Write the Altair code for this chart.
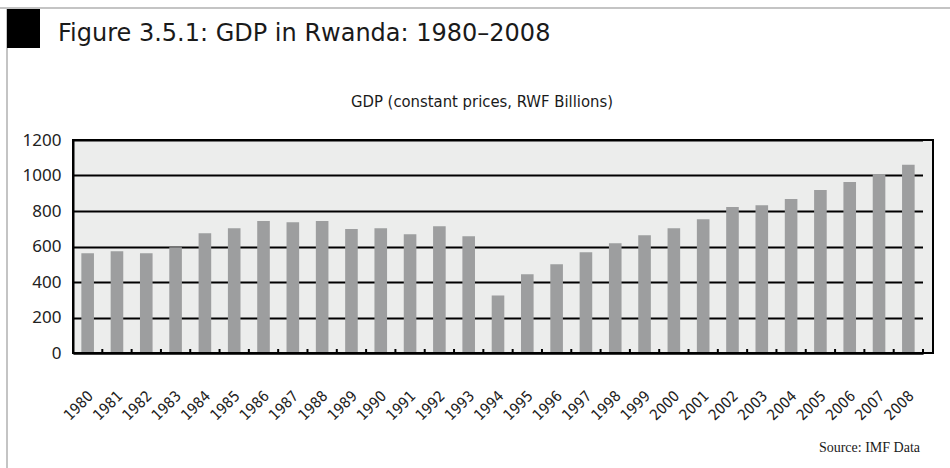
import altair as alt
import pandas as pd

years = [str(y) for y in range(1980, 2009)]
gdp = [562, 573, 562, 596, 675, 703, 743, 737, 743, 698, 703, 669, 714, 658,
       324, 443, 500, 568, 619, 664, 703, 754, 822, 833, 867, 918, 963, 1008, 1060]
y_ticks = [0, 200, 400, 600, 800, 1000, 1200]

title_text = "Figure 3.5.1: GDP in Rwanda: 1980\u20132008"
subtitle_text = "GDP (constant prices, RWF Billions)"
source_text = "Source: IMF Data"

W, H = 850, 213
BG = "#ecedec"
BAR = "#9d9e9f"
COND = "DejaVu Sans Condensed"

df = pd.DataFrame({"year": years, "gdp": gdp})

xscale = alt.Scale(paddingInner=0, paddingOuter=0)
yscale = alt.Scale(domain=[0, 1200], nice=False)

bars = alt.Chart(df).mark_bar(color=BAR, width=alt.RelativeBandSize(0.43)).encode(
    x=alt.X("year:O", scale=xscale, sort=None,
            axis=alt.Axis(title=None, labelAngle=-45, labelAlign="right",
                          labelBaseline="middle", labelPadding=40, labelOffset=3,
                          ticks=False, domain=True, domainColor="black",
                          domainWidth=2, labelFont=COND, labelFontSize=15,
                          labelColor="#222", grid=False)),
    y=alt.Y("gdp:Q", scale=yscale,
            axis=alt.Axis(title=None, values=y_ticks, format="d", grid=True,
                          gridColor="black", gridWidth=2, ticks=False, domain=True,
                          domainColor="black", domainWidth=2, labelPadding=12,
                          labelFont="Noto Sans", labelFontSize=17, labelColor="#222")),
)

ticks = alt.Chart(df).mark_rule(color="black", strokeWidth=2).encode(
    x=alt.X("year:O", bandPosition=1, scale=xscale, sort=None),
    y=alt.value(H),
    y2=alt.value(H - 4),
)

strip = alt.Chart(df).mark_rect(color=BG).encode(
    x=alt.value(W), x2=alt.value(W + 10), y=alt.value(0), y2=alt.value(H)
)

border = alt.Chart(df).mark_rect(fillOpacity=0, stroke="black", strokeWidth=2).encode(
    x=alt.value(0), x2=alt.value(W + 10), y=alt.value(0), y2=alt.value(H)
)

frame_top = alt.Chart(df).mark_rule(color="#c4c4c4", strokeWidth=2).encode(
    x=alt.value(-73), x2=alt.value(880), y=alt.value(-132)
)
frame_left = alt.Chart(df).mark_rule(color="#c4c4c4", strokeWidth=2).encode(
    x=alt.value(-66), y=alt.value(-132), y2=alt.value(330)
)
black_sq = alt.Chart(df).mark_rect(color="black").encode(
    x=alt.value(-66), x2=alt.value(-33), y=alt.value(-131), y2=alt.value(-92)
)

tdf = pd.DataFrame({"t": [title_text]})
title = alt.Chart(tdf).mark_text(font="DejaVu Sans", fontSize=24, align="left",
                                 baseline="alphabetic", color="#1a1a1a").encode(
    text="t:N", x=alt.value(-15), y=alt.value(-99)
)
sdf = pd.DataFrame({"t": [subtitle_text]})
subtitle = alt.Chart(sdf).mark_text(font=COND, fontSize=16.5,
                                    align="center", baseline="alphabetic",
                                    color="#1a1a1a").encode(
    text="t:N", x=alt.value(409), y=alt.value(-33)
)
srcdf = pd.DataFrame({"t": [source_text]})
source = alt.Chart(srcdf).mark_text(font="Liberation Serif", fontSize=14,
                                    align="right", baseline="alphabetic",
                                    color="#1a1a1a").encode(
    text="t:N", x=alt.value(847), y=alt.value(312)
)

chart = alt.layer(
    strip, bars, ticks, border, frame_top, frame_left, black_sq, title, subtitle, source
).properties(
    width=W, height=H, autosize="none",
    padding={"left": 73, "top": 140, "right": 27, "bottom": 115},
    background="white",
).configure_view(fill=BG, stroke=None)

chart.save("out.html", embed_options={"renderer": "svg", "actions": False})
